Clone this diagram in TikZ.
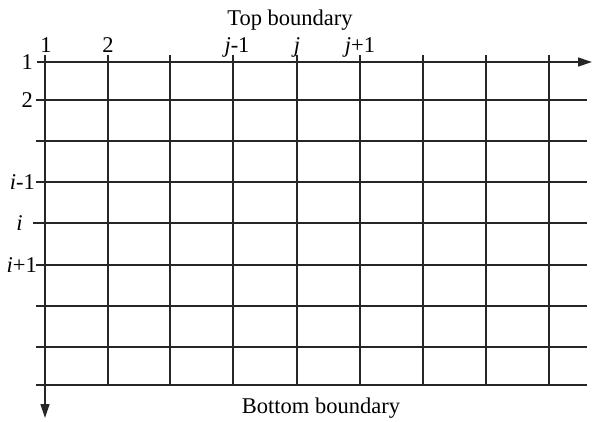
\documentclass[tikz,border=0pt]{standalone}
\usepackage{fontspec}
\setmainfont{Liberation Serif}
\usetikzlibrary{arrows.meta}
\begin{document}
\begin{tikzpicture}[x=1pt,y=-1pt,
  gridline/.style={line width=1.3pt,black!85},
  axis/.style={gridline,-{Triangle[length=14pt,width=9pt]}},
  lbl/.style={font=\fontsize{22.5}{22.5}\selectfont,inner sep=0pt}]
\useasboundingbox (0,0) rectangle (592,421);
% horizontal grid line end points
\foreach \i/\y in {1/62,2/100,3/141,4/182,5/223,6/265,7/306,8/347,9/385}{
  \coordinate (hL\i) at (36,\y);
  \coordinate (hR\i) at (587,\y);
}
\coordinate (hL5) at (33,223);
\coordinate (hL1) at (37,62);
\coordinate (hE) at (592,62);
% vertical grid line end points
\foreach \j/\x in {1/45,2/108,3/170,4/233,5/297,6/360,7/423,8/486,9/549}{
  \coordinate (vT\j) at (\x,55);
  \coordinate (vB\j) at (\x,385);
}
\coordinate (vE) at (45,418);
% lines
\foreach \i in {2,...,9}{ \draw[gridline] (hL\i) -- (hR\i); }
\draw[axis] (hL1) -- (hE);
\foreach \j in {2,...,9}{ \draw[gridline] (vT\j) -- (vB\j); }
\draw[axis] (vT1) -- (vE);
% boundary labels
\node[lbl,anchor=base] (top) at (290,25) {Top boundary};
\node[lbl,anchor=base] (bottom) at (321,413) {Bottom boundary};
% column labels
\node[lbl,anchor=base] (c1) at (46,52) {1};
\node[lbl,anchor=base] (c2) at (108,52) {2};
\node[lbl,anchor=base] (cjm) at (237,52) {\textit{j}-1};
\node[lbl,anchor=base] (cj) at (297,52) {\textit{j}};
\node[lbl,anchor=base] (cjp) at (360,52) {\textit{j}+1};
% row labels
\node[lbl,anchor=base east] (r1) at (33,69) {1};
\node[lbl,anchor=base east] (r2) at (33,107) {2};
\node[lbl,anchor=base east] (rim) at (35,189) {\textit{i}-1};
\node[lbl,anchor=base] (ri) at (19.5,230) {\textit{i}};
\node[lbl,anchor=base east] (rip) at (37,272) {\textit{i}+1};
\end{tikzpicture}
\end{document}
